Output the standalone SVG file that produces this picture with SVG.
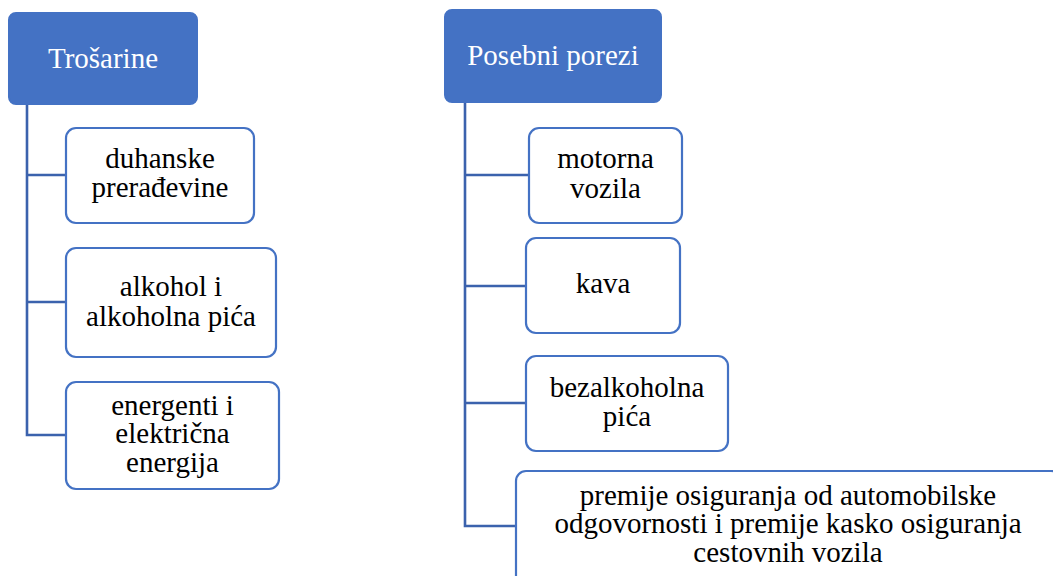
<svg xmlns="http://www.w3.org/2000/svg" width="1053" height="576" viewBox="0 0 1053 576">
<style>
.head{fill:#4472C4;stroke:#4472C4;stroke-width:2}
.leaf{fill:#FFFFFF;stroke:#4472C4;stroke-width:2.2}
.conn{fill:none;stroke:#3B62AD;stroke-width:2.6}
text{font-family:"Liberation Serif","Times New Roman",serif;font-size:29px;text-anchor:middle}
.ht{fill:#FFFFFF}
.lt{fill:#000000}
</style>
<rect width="1053" height="576" fill="#FFFFFF"/>
<g id="connectors">
<path class="conn" d="M27,104 V435 H66 M27,175 H66 M27,302 H66"/>
<path class="conn" d="M465,102 V526 H516 M465,175 H529 M465,286 H526 M465,403 H526"/>
</g>
<g id="trosarine">
<rect class="head" x="9" y="13" width="188" height="91" rx="7"/>
<text class="ht" x="103" y="68">Trošarine</text>
</g>
<g id="duhanske">
<rect class="leaf" x="66" y="128" width="188" height="95" rx="10"/>
<text class="lt" x="160" y="168">duhanske</text>
<text class="lt" x="160" y="197">prerađevine</text>
</g>
<g id="alkohol">
<rect class="leaf" x="66" y="248" width="210" height="109" rx="10"/>
<text class="lt" x="171" y="296">alkohol i</text>
<text class="lt" x="171" y="326">alkoholna pića</text>
</g>
<g id="energenti">
<rect class="leaf" x="66" y="382" width="213" height="107" rx="10"/>
<text class="lt" x="172.5" y="415">energenti i</text>
<text class="lt" x="172.5" y="443">električna</text>
<text class="lt" x="172.5" y="472">energija</text>
</g>
<g id="posebni">
<rect class="head" x="445" y="10" width="216" height="92" rx="7"/>
<text class="ht" x="553" y="65">Posebni porezi</text>
</g>
<g id="motorna">
<rect class="leaf" x="529" y="128" width="153" height="95" rx="10"/>
<text class="lt" x="605.5" y="168">motorna</text>
<text class="lt" x="605.5" y="198">vozila</text>
</g>
<g id="kava">
<rect class="leaf" x="526" y="238" width="154" height="95" rx="10"/>
<text class="lt" x="603" y="293">kava</text>
</g>
<g id="bezalkoholna">
<rect class="leaf" x="526" y="356" width="202" height="95" rx="10"/>
<text class="lt" x="627" y="397">bezalkoholna</text>
<text class="lt" x="627" y="426">pića</text>
</g>
<g id="premije">
<rect class="leaf" x="516" y="471" width="545" height="120" rx="10"/>
<text class="lt" x="788" y="505">premije osiguranja od automobilske</text>
<text class="lt" x="788" y="533">odgovornosti i premije kasko osiguranja</text>
<text class="lt" x="788" y="562">cestovnih vozila</text>
</g>
</svg>
